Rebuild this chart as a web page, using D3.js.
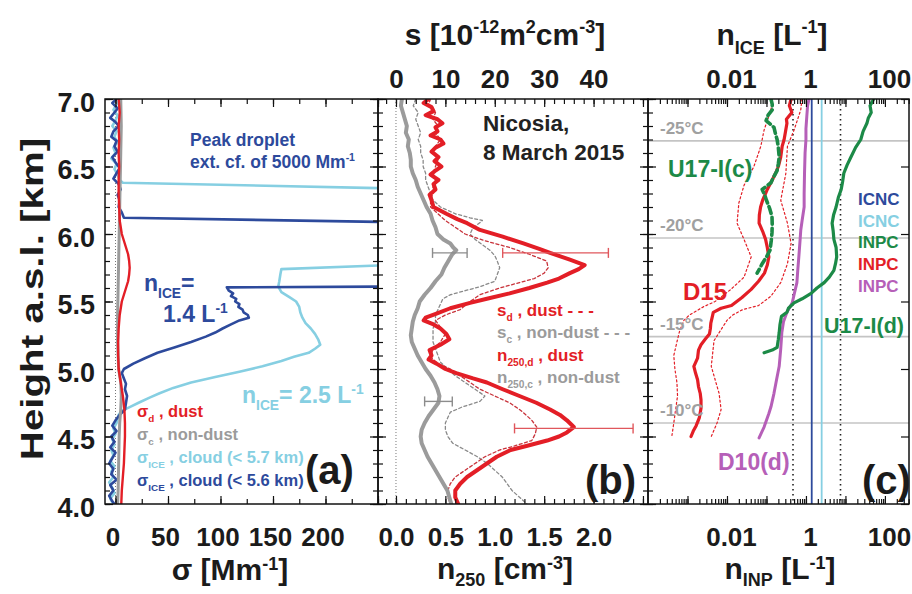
<!DOCTYPE html>
<html><head><meta charset="utf-8">
<script src="https://cdn.jsdelivr.net/npm/d3@7"></script>
<style>
html,body{margin:0;padding:0;background:#fff;}
svg{display:block;}
text{font-family:"Liberation Sans",Arial,Helvetica,sans-serif;font-weight:bold;}
</style></head><body>
<svg id="chart" width="912" height="594"></svg>
<script>
// ---------- tick labels and reference levels ----------
const heightTicks = [4.0, 4.5, 5.0, 5.5, 6.0, 6.5, 7.0];
const sigmaTicks = [0, 50, 100, 150, 200];
const n250Ticks = [0, 0.5, 1.0, 1.5, 2.0];
const sTicks = [0, 10, 20, 30, 40];
const inpTicks = [0.01, 1, 100];
const tempLevels = [6.69, 5.97, 5.24, 4.60];
const tempLabels = ["-25°C", "-20°C", "-15°C", "-10°C"];
const icncDark = 1.4, icncLight = 2.5;
const icncBounds = [0.47, 7.5];

// ---------- panel (a): extinction coefficients [height km, Mm^-1] ----------
const sigmaDust = [[7.0,3],[6.9,4],[6.8,3],[6.7,3.5],[6.6,3],[6.5,3.5],[6.4,3],[6.3,3],[6.2,3.5],[6.1,4],[6.0,6],[5.95,8],[5.9,10],[5.85,12],[5.8,13],[5.75,13.5],[5.7,13],[5.65,12],[5.6,10],[5.55,8],[5.5,6],[5.4,4],[5.3,3],[5.2,2.5],[5.1,2.5],[5.0,3],[4.95,4],[4.9,5],[4.8,7],[4.7,8.5],[4.6,9],[4.5,9],[4.4,8.5],[4.3,8],[4.2,7],[4.1,6],[4.0,5.5]];
const sigmaNonDust = [[7.0,5],[6.8,5.5],[6.6,5],[6.4,4.5],[6.2,4],[6.0,3.5],[5.8,3],[5.6,2.5],[5.4,2],[5.2,2],[5.0,3],[4.9,5],[4.8,5.5],[4.7,5],[4.6,4],[4.5,3.5],[4.3,3],[4.1,2.5],[4.0,2]];
const sigmaIce57 = [[7.0,4],[6.96,1],[6.92,-2],[6.88,2],[6.84,0],[6.8,-3],[6.76,1],[6.72,-1],[6.68,2],[6.64,-2],[6.6,0],[6.56,-4],[6.52,1],[6.48,-1],[6.44,2],[6.4,4],[6.38,7],[6.34,250],[6.33,5000],[5.78,5000],[5.77,260],[5.74,158],[5.70,157],[5.65,156],[5.61,155],[5.57,158],[5.53,166],[5.50,172],[5.46,175],[5.42,176],[5.38,178],[5.34,181],[5.30,186],[5.26,190],[5.22,193],[5.18,195],[5.15,190],[5.12,184],[5.09,170],[5.06,158],[5.02,140],[4.98,118],[4.94,95],[4.90,72],[4.86,55],[4.82,42],[4.79,33],[4.75,22],[4.72,14],[4.69,6],[4.66,3],[4.6,1],[4.56,-2],[4.52,0],[4.48,-3],[4.44,-1],[4.4,-4],[4.36,-2],[4.32,-5],[4.28,-1],[4.24,-4],[4.2,-2],[4.16,-6],[4.12,-3],[4.08,-1],[4.04,-5],[4.0,-2]];
const sigmaIce56 = [[7.0,1],[6.97,-3],[6.93,2],[6.9,-1],[6.86,-5],[6.83,0],[6.8,3],[6.76,-2],[6.72,-4],[6.69,1],[6.65,-1],[6.61,2],[6.57,-3],[6.53,0],[6.49,4],[6.45,1],[6.41,-2],[6.37,3],[6.33,5],[6.29,2],[6.25,4],[6.2,3],[6.16,6],[6.12,8],[6.09,250],[6.08,5000],[5.62,5000],[5.61,250],[5.605,106],[5.58,108],[5.56,112],[5.54,110],[5.52,115],[5.50,114],[5.48,118],[5.46,117],[5.44,121],[5.42,122],[5.40,126],[5.38,127],[5.36,118],[5.33,110],[5.30,102],[5.27,95],[5.24,86],[5.20,72],[5.16,56],[5.12,40],[5.08,28],[5.04,17],[5.00,8],[4.97,6],[4.93,8],[4.89,10],[4.85,9],[4.80,11],[4.75,10],[4.70,9],[4.66,4],[4.62,0],[4.58,-3],[4.54,1],[4.5,-4],[4.46,-1],[4.42,-5],[4.38,0],[4.34,-3],[4.3,-6],[4.26,-2],[4.22,-4],[4.18,1],[4.14,-5],[4.1,-2],[4.06,-6],[4.02,-3],[4.0,-1]];

// ---------- panel (b): number and surface-area concentrations ----------
const n250Dust = [[7.0,.33],[6.97,.28],[6.94,.36],[6.91,.38],[6.88,.30],[6.85,.42],[6.82,.47],[6.79,.40],[6.76,.42],[6.73,.35],[6.70,.45],[6.67,.48],[6.64,.40],[6.61,.36],[6.57,.43],[6.54,.39],[6.50,.46],[6.47,.40],[6.44,.35],[6.40,.43],[6.37,.38],[6.33,.40],[6.29,.34],[6.25,.36],[6.20,.38],[6.15,.51],[6.11,.62],[6.08,.72],[6.03,.85],[5.98,1.08],[5.93,1.29],[5.89,1.45],[5.86,1.56],[5.81,1.76],[5.77,1.91],[5.74,1.85],[5.71,1.76],[5.67,1.65],[5.64,1.53],[5.60,1.35],[5.56,1.15],[5.52,0.92],[5.49,0.75],[5.45,0.55],[5.41,0.41],[5.38,0.30],[5.36,0.28],[5.33,0.38],[5.30,0.45],[5.26,0.51],[5.22,0.54],[5.18,0.45],[5.14,0.34],[5.10,0.36],[5.07,0.33],[5.04,0.41],[5.00,0.50],[4.97,0.61],[4.93,0.78],[4.90,0.92],[4.85,1.08],[4.80,1.25],[4.75,1.42],[4.70,1.56],[4.66,1.66],[4.62,1.73],[4.57,1.80],[4.53,1.73],[4.50,1.65],[4.47,1.53],[4.43,1.32],[4.40,1.16],[4.35,1.02],[4.30,0.92],[4.25,0.82],[4.20,0.72],[4.15,0.65],[4.10,0.60],[4.05,0.60],[4.0,0.63]];
const n250NonDust = [[7.0,.06],[6.95,.05],[6.9,.07],[6.85,.09],[6.8,.11],[6.75,.10],[6.7,.13],[6.65,.12],[6.6,.14],[6.55,.15],[6.5,.15],[6.45,.17],[6.4,.20],[6.35,.22],[6.3,.25],[6.25,.28],[6.2,.31],[6.15,.35],[6.1,.37],[6.05,.40],[6.0,.42],[5.96,.48],[5.93,.55],[5.90,.58],[5.88,.61],[5.85,.57],[5.80,.53],[5.75,.49],[5.70,.46],[5.65,.40],[5.60,.35],[5.55,.29],[5.50,.24],[5.45,.22],[5.40,.19],[5.35,.17],[5.30,.16],[5.25,.15],[5.20,.16],[5.15,.19],[5.10,.22],[5.05,.26],[5.00,.30],[4.95,.35],[4.90,.39],[4.85,.42],[4.80,.44],[4.75,.43],[4.70,.38],[4.65,.33],[4.60,.29],[4.55,.26],[4.50,.25],[4.45,.26],[4.40,.29],[4.35,.32],[4.30,.36],[4.25,.40],[4.20,.44],[4.15,.48],[4.10,.52],[4.05,.54],[4.0,.56]];
const sDust = [[7.0,7],[6.95,6.5],[6.9,8],[6.85,7.5],[6.8,8.5],[6.75,8],[6.7,9],[6.65,8],[6.6,7.5],[6.55,8.5],[6.5,8],[6.45,7.5],[6.4,8],[6.35,7.5],[6.3,7.5],[6.25,7],[6.2,7],[6.15,8.5],[6.1,10],[6.05,12],[6.0,14],[5.95,18],[5.9,23],[5.85,27],[5.8,30.5],[5.75,30.8],[5.71,30],[5.67,28],[5.64,25],[5.6,21],[5.55,17],[5.5,15],[5.44,13],[5.40,10],[5.36,8],[5.31,9],[5.26,10],[5.2,9],[5.15,7.5],[5.09,7],[5.04,8.5],[5.0,11],[4.95,13],[4.90,15],[4.85,17],[4.80,20],[4.75,23],[4.70,25],[4.67,26],[4.62,27.5],[4.57,28.5],[4.52,28.2],[4.47,27.5],[4.43,24],[4.40,21],[4.35,18],[4.30,16],[4.25,14],[4.20,12],[4.15,11],[4.10,10.5],[4.05,10.5],[4.0,11]];
const sNonDust = [[7.0,4],[6.95,3.5],[6.9,4.5],[6.85,4],[6.8,4.5],[6.75,5],[6.7,4.5],[6.65,5],[6.6,5],[6.55,5.5],[6.5,5.5],[6.45,6],[6.4,6],[6.35,6.5],[6.3,7],[6.25,7.5],[6.2,9],[6.15,12],[6.12,15],[6.10,17.5],[6.07,16.5],[6.04,15.5],[6.0,15],[5.96,16],[5.92,17.5],[5.88,19],[5.84,20],[5.80,20.5],[5.75,21],[5.70,20.5],[5.65,20],[5.61,17],[5.58,14],[5.55,11],[5.52,9.5],[5.48,9],[5.44,8.5],[5.40,8],[5.35,8],[5.30,7.5],[5.25,7.5],[5.20,7.5],[5.15,8],[5.10,8.5],[5.05,9],[5.00,10.5],[4.95,12],[4.90,14],[4.85,16],[4.80,18],[4.76,17],[4.72,13.5],[4.68,11],[4.64,10.5],[4.60,10],[4.55,10],[4.50,10.5],[4.45,11.5],[4.40,14],[4.35,16.5],[4.30,18.5],[4.25,20],[4.20,21.5],[4.15,22.5],[4.10,23.5],[4.05,25],[4.0,26.5]];
// [height, low, high] of the n250 uncertainty bars
const errDust = [[5.86,1.08,2.15],[4.56,1.20,2.40]];
const errNonDust = [[5.86,0.37,0.72],[4.76,0.29,0.57]];

// ---------- panel (c): INP and ice crystal concentrations [height km, L^-1] ----------
const inpD15 = [[7.0,0.42],[6.95,0.38],[6.9,0.44],[6.85,0.32],[6.82,0.33],[6.75,0.30],[6.7,0.28],[6.65,0.25],[6.57,0.23],[6.5,0.20],[6.45,0.17],[6.4,0.14],[6.33,0.105],[6.25,0.08],[6.2,0.071],[6.14,0.066],[6.08,0.065],[6.02,0.08],[5.96,0.095],[5.9,0.105],[5.83,0.115],[5.77,0.105],[5.71,0.089],[5.65,0.063],[5.59,0.041],[5.53,0.024],[5.47,0.013],[5.45,0.0071],[5.42,0.0045],[5.38,0.0042],[5.34,0.0039],[5.3,0.0038],[5.26,0.0036],[5.22,0.0028],[5.18,0.0022],[5.14,0.0019],[5.08,0.0018],[5.02,0.00145],[4.97,0.0016],[4.92,0.0018],[4.87,0.0019],[4.82,0.0021],[4.77,0.0022],[4.71,0.0022],[4.64,0.0020],[4.58,0.00166],[4.54,0.0014],[4.5,0.00123]];
const inpD15Low = [[7.0,0.14],[6.92,0.13],[6.77,0.087],[6.65,0.072],[6.5,0.048],[6.36,0.027],[6.23,0.02],[6.08,0.018],[5.96,0.027],[5.83,0.041],[5.68,0.027],[5.59,0.0126],[5.5,0.005],[5.46,0.0025],[5.4,0.00112],[5.36,0.00081],[5.28,0.00063],[5.2,0.00054],[5.1,0.00045],[5.0,0.00048],[4.9,0.00054],[4.8,0.00056],[4.7,0.0005],[4.6,0.00045],[4.5,0.0004]];
const inpD15High = [[7.0,0.79],[6.92,0.74],[6.77,0.5],[6.65,0.34],[6.45,0.31],[6.25,0.23],[6.08,0.34],[5.93,0.42],[5.78,0.34],[5.64,0.23],[5.54,0.13],[5.47,0.063],[5.44,0.025],[5.40,0.014],[5.36,0.01],[5.21,0.0047],[5.02,0.004],[4.82,0.0063],[4.70,0.0071],[4.6,0.0056],[4.5,0.004]];
const inpU17c = [[7.0,0.13],[6.96,0.14],[6.92,0.14],[6.88,0.11],[6.84,0.098],[6.79,0.155],[6.74,0.17],[6.70,0.186],[6.64,0.2],[6.57,0.21],[6.52,0.2],[6.47,0.186],[6.42,0.15],[6.38,0.13],[6.33,0.078],[6.29,0.09],[6.25,0.1],[6.19,0.12],[6.13,0.138],[6.07,0.14],[6.01,0.138],[5.95,0.132],[5.88,0.123],[5.83,0.1],[5.78,0.078],[5.74,0.066],[5.71,0.058]];
const inpU17d = [[7.0,52],[6.95,42],[6.9,45],[6.86,38],[6.82,35],[6.76,28],[6.70,24.5],[6.64,18],[6.57,13.8],[6.51,11],[6.45,9.1],[6.39,8.5],[6.33,7.8],[6.27,6.6],[6.20,5.8],[6.14,5.0],[6.08,4.6],[6.02,4.9],[5.96,5.1],[5.9,5.8],[5.83,6.0],[5.78,5.6],[5.73,5.1],[5.68,3.9],[5.64,2.9],[5.60,1.9],[5.56,1.35],[5.52,0.8],[5.49,0.5],[5.45,0.36],[5.42,0.33],[5.39,0.24],[5.33,0.22],[5.27,0.21],[5.22,0.2],[5.16,0.186],[5.14,0.14],[5.12,0.087]];
const inpD10 = [[7.0,1.2],[6.95,1.1],[6.87,1.05],[6.78,1.0],[6.70,1.0],[6.6,0.95],[6.45,0.92],[6.3,0.9],[6.2,0.9],[6.1,0.8],[6.03,0.74],[5.93,0.7],[5.83,0.66],[5.73,0.62],[5.64,0.59],[5.55,0.5],[5.49,0.45],[5.42,0.33],[5.35,0.27],[5.27,0.245],[5.15,0.23],[5.02,0.21],[4.92,0.18],[4.82,0.155],[4.72,0.13],[4.67,0.115],[4.57,0.087],[4.49,0.065]];

// ---------- colours ----------
const RED = "#e31e26", GREY = "#9b9b9b", DARKBLUE = "#2d4a9c", LIGHTBLUE = "#86cfe2",
      GREEN = "#1c8a47", PURPLE = "#b65fb8", INK = "#1b1b1b";

// ---------- layout ----------
const svg = d3.select("#chart");
const TOP = 99, BOTTOM = 504;
const y = d3.scaleLinear().domain([4, 7]).range([BOTTOM, TOP]);
const xA = d3.scaleLinear().domain([-10, 250]).range([105, 378]);
const xB = d3.scaleLinear().domain([-0.182, 2.551]).range([378, 648]);
const xS = d3.scaleLinear().domain([-3.64, 51.02]).range([378, 648]);
const xC = d3.scaleLog().domain([1e-4, 407]).range([648, 909]);

const panels = [
  {id: "a", x: xA}, {id: "b", x: xB}, {id: "c", x: xC}
];
const defs = svg.append("defs");
panels.forEach(p => {
  const [x0, x1] = p.x.range();
  defs.append("clipPath").attr("id", "clip-" + p.id)
    .append("rect").attr("x", x0).attr("y", TOP).attr("width", x1 - x0).attr("height", BOTTOM - TOP);
});
const layer = id => svg.append("g").attr("clip-path", `url(#clip-${id})`);

function profile(g, data, xs, color, width, dash) {
  const line = d3.line().x(d => xs(d[1])).y(d => y(d[0]));
  const path = g.append("path").datum(data).attr("d", line)
    .attr("fill", "none").attr("stroke", color).attr("stroke-width", width)
    .attr("stroke-linejoin", "round").attr("stroke-linecap", "round");
  if (dash) path.attr("stroke-dasharray", dash);
  return path;
}

// text with sub/superscripts: parts are strings or [string, "sub"|"sup"]
function rich(parent, x, yy, parts, size, fill, anchor, subShift, supShift) {
  const t = parent.append("text").attr("x", x).attr("y", yy)
    .attr("font-size", size).attr("fill", fill).attr("text-anchor", anchor || "start");
  let shift = 0;
  parts.forEach(p => {
    const [str, mode] = Array.isArray(p) ? p : [p, ""];
    const target = mode === "sub" ? size * (subShift || 0.3)
                 : mode === "sup" ? -size * (supShift || 0.4) : 0;
    const ts = t.append("tspan").attr("dy", target - shift).text(str);
    if (mode) ts.attr("font-size", size * 0.6);
    shift = target;
  });
  return t;
}

// ---------- panel (a) ----------
const gA = layer("a");
gA.append("line").attr("x1", xA(0)).attr("x2", xA(0)).attr("y1", TOP).attr("y2", BOTTOM)
  .attr("stroke", "#777").attr("stroke-width", 1).attr("stroke-dasharray", "1,2");
profile(gA, sigmaIce57, xA, LIGHTBLUE, 2.6);
profile(gA, sigmaIce56, xA, DARKBLUE, 2.6);
profile(gA, sigmaNonDust, xA, GREY, 3);
profile(gA, sigmaDust, xA, RED, 2.4);

// ---------- panel (b) ----------
const gB = layer("b");
gB.append("line").attr("x1", xB(0)).attr("x2", xB(0)).attr("y1", TOP).attr("y2", BOTTOM)
  .attr("stroke", "#777").attr("stroke-width", 1).attr("stroke-dasharray", "1,2");
profile(gB, sNonDust, xS, "#8a8a8a", 1.3, "3,2.5");
profile(gB, sDust, xS, "#c8323a", 1.3, "3,2.5");
profile(gB, n250NonDust, xB, GREY, 4);
profile(gB, n250Dust, xB, RED, 4);
function errorBars(g, data, color) {
  data.forEach(([h, lo, hi]) => {
    g.append("line").attr("x1", xB(lo)).attr("x2", xB(hi)).attr("y1", y(h)).attr("y2", y(h))
      .attr("stroke", color).attr("stroke-width", 1.4);
    [lo, hi].forEach(v => g.append("line").attr("x1", xB(v)).attr("x2", xB(v))
      .attr("y1", y(h) - 5).attr("y2", y(h) + 5).attr("stroke", color).attr("stroke-width", 1.4));
  });
}
errorBars(gB, errNonDust, "#8c8c8c");
errorBars(gB, errDust, "#e0575c");

// ---------- panel (c) ----------
const gC = layer("c");
tempLevels.forEach(h => gC.append("line").attr("x1", 648).attr("x2", 909)
  .attr("y1", y(h)).attr("y2", y(h)).attr("stroke", "#c4c4c4").attr("stroke-width", 1.6));
icncBounds.forEach(v => gC.append("line").attr("x1", xC(v)).attr("x2", xC(v))
  .attr("y1", TOP).attr("y2", BOTTOM).attr("stroke", "#222").attr("stroke-width", 1.6)
  .attr("stroke-dasharray", "1.6,3.4"));
gC.append("line").attr("x1", xC(icncDark)).attr("x2", xC(icncDark)).attr("y1", TOP).attr("y2", BOTTOM)
  .attr("stroke", DARKBLUE).attr("stroke-width", 1.8);
gC.append("line").attr("x1", xC(icncLight)).attr("x2", xC(icncLight)).attr("y1", TOP).attr("y2", BOTTOM)
  .attr("stroke", LIGHTBLUE).attr("stroke-width", 1.8);
profile(gC, inpD15Low, xC, RED, 1.2, "2,2.5");
profile(gC, inpD15High, xC, RED, 1.2, "2,2.5");
profile(gC, inpD10, xC, PURPLE, 3);
profile(gC, inpD15, xC, RED, 3.2);
profile(gC, inpU17c, xC, GREEN, 3.6, "7,4");
profile(gC, inpU17d, xC, GREEN, 3.2);
tempLabels.forEach((t, i) => svg.append("text").attr("x", 660).attr("y", y(tempLevels[i]) - 7)
  .attr("font-size", 17).attr("font-weight", "normal").attr("fill", "#a0a0a0").text(t));

// ---------- frames and axes ----------
const axes = svg.append("g");
function yTicks(x, side) {
  const make = side === "right" ? d3.axisRight : d3.axisLeft;
  axes.append("g").attr("transform", `translate(${x},0)`)
    .call(make(y).tickValues(d3.range(4, 7.01, 0.1)).tickSize(5).tickFormat(""));
  axes.append("g").attr("transform", `translate(${x},0)`)
    .call(make(y).tickValues(heightTicks).tickSize(8).tickFormat(""));
}
// ticks point inward on every panel edge
yTicks(105, "right"); yTicks(378, "left"); yTicks(378, "right"); yTicks(648, "left"); yTicks(648, "right");
axes.append("g").attr("transform", "translate(909,0)")
  .call(d3.axisLeft(y).tickValues(heightTicks).tickSize(8).tickFormat(""));

function xTicks(scale, minor, major, yy, dir) {
  const make = dir === "top" ? d3.axisTop : d3.axisBottom;
  axes.append("g").attr("transform", `translate(0,${yy})`)
    .call(make(scale).tickValues(minor).tickSize(-5).tickFormat(""));
  axes.append("g").attr("transform", `translate(0,${yy})`)
    .call(make(scale).tickValues(major).tickSize(-8).tickFormat(""));
}
const aMinor = d3.range(0, 251, 25), aMajor = d3.range(0, 251, 50);
xTicks(xA, aMinor, aMajor, BOTTOM, "bottom");
xTicks(xA, aMinor, aMajor, TOP, "top");
xTicks(xB, d3.range(-0.1, 2.56, 0.1), d3.range(0, 2.56, 0.5), BOTTOM, "bottom");
xTicks(xS, d3.range(-2, 51, 2), d3.range(0, 51, 10), TOP, "top");
const cMinor = xC.ticks().filter(v => v > 1.001e-4);
const cMajor = cMinor.filter(v => Math.abs(Math.log10(v) - Math.round(Math.log10(v))) < 1e-6);
xTicks(xC, cMinor, cMajor, BOTTOM, "bottom");
xTicks(xC, cMinor, cMajor, TOP, "top");
axes.selectAll(".domain").remove();
axes.selectAll("line").attr("stroke", "#111").attr("stroke-width", 1.2);
panels.forEach(p => {
  const [x0, x1] = p.x.range();
  svg.append("rect").attr("x", x0).attr("y", TOP).attr("width", x1 - x0).attr("height", BOTTOM - TOP)
    .attr("fill", "none").attr("stroke", "#111").attr("stroke-width", 1.5);
});

// tick labels
function styleLabels(size, dx) {
  return g => {
    g.select(".domain").remove();
    g.selectAll("text").attr("font-size", size).attr("fill", INK).attr("dx", dx || 0)
      .attr("font-family", '"Liberation Sans",Arial,sans-serif').attr("font-weight", "bold");
  };
}
const inpFormat = d => d < 1 ? "0.01" : String(d);
svg.append("g").attr("transform", `translate(104,0)`)
  .call(d3.axisLeft(y).tickValues(heightTicks).tickSize(0).tickPadding(9).tickFormat(d3.format(".1f")))
  .call(styleLabels(27)).selectAll("text").attr("dy", "0.45em");
svg.append("g").attr("transform", `translate(0,${BOTTOM})`)
  .call(d3.axisBottom(xA).tickValues(sigmaTicks).tickSize(0).tickPadding(24).tickFormat(d3.format("d")))
  .call(styleLabels(26, -3));
svg.append("g").attr("transform", `translate(0,${BOTTOM})`)
  .call(d3.axisBottom(xB).tickValues(n250Ticks).tickSize(0).tickPadding(24).tickFormat(d3.format(".1f")))
  .call(styleLabels(26));
svg.append("g").attr("transform", `translate(0,${BOTTOM})`)
  .call(d3.axisBottom(xC).tickValues(inpTicks).tickSize(0).tickPadding(24).tickFormat(inpFormat))
  .call(styleLabels(26, 4));
svg.append("g").attr("transform", `translate(0,${TOP})`)
  .call(d3.axisTop(xS).tickValues(sTicks).tickSize(0).tickPadding(11).tickFormat(d3.format("d")))
  .call(styleLabels(26));
svg.append("g").attr("transform", `translate(0,${TOP})`)
  .call(d3.axisTop(xC).tickValues(inpTicks).tickSize(0).tickPadding(11).tickFormat(inpFormat))
  .call(styleLabels(26, 4));

// axis titles
const TS = 30;
rich(svg, 505, 45, ["s [10", ["-12", "sup"], "m", ["2", "sup"], "cm", ["-3", "sup"], "]"], TS, INK, "middle");
rich(svg, 772, 45, ["n", ["ICE", "sub"], " [L", ["-1", "sup"], "]"], TS, INK, "middle");
rich(svg, 230, 580, ["σ [Mm", ["-1", "sup"], "]"], TS, INK, "middle", 0.22, 0.33);
rich(svg, 505, 579, ["n", ["250", "sub"], " [cm", ["-3", "sup"], "]"], TS, INK, "middle", 0.22, 0.33);
rich(svg, 780, 579, ["n", ["INP", "sub"], " [L", ["-1", "sup"], "]"], TS, INK, "middle", 0.22, 0.33);
svg.append("text").attr("transform", "translate(43,299) rotate(-90) scale(1.3,1)").attr("text-anchor", "middle")
  .attr("font-size", 31).attr("fill", INK).text("Height a.s.l. [km]");

// ---------- annotations ----------
rich(svg, 190, 146, ["Peak droplet"], 17.5, DARKBLUE);
rich(svg, 190, 168, ["ext. cf. of 5000 Mm", ["-1", "sup"]], 17.5, DARKBLUE);
rich(svg, 144, 291, ["n", ["ICE", "sub"], "="], 23, DARKBLUE);
rich(svg, 163, 322, ["1.4 L", ["-1", "sup"]], 23, DARKBLUE);
rich(svg, 242, 403, ["n", ["ICE", "sub"], "= 2.5 L", ["-1", "sup"]], 23, LIGHTBLUE);
rich(svg, 137, 417, ["σ", ["d", "sub"], " , dust"], 16.5, RED);
rich(svg, 137, 440, ["σ", ["c", "sub"], " , non-dust"], 16.5, GREY);
rich(svg, 137, 463, ["σ", ["ICE", "sub"], " , cloud (< 5.7 km)"], 16.5, LIGHTBLUE);
rich(svg, 137, 486, ["σ", ["ICE", "sub"], " , cloud (< 5.6 km)"], 16.5, DARKBLUE);
rich(svg, 305, 484, ["(a)"], 40, INK);

rich(svg, 483, 131, ["Nicosia,"], 22.5, "#222");
rich(svg, 483, 160, ["8 March 2015"], 22.5, "#222");
rich(svg, 497, 316, ["s", ["d", "sub"], " , dust - - -"], 17, RED);
rich(svg, 497, 338, ["s", ["c", "sub"], " , non-dust - - -"], 17, GREY);
rich(svg, 497, 361, ["n", ["250,d", "sub"], " , dust"], 17, RED);
rich(svg, 497, 383, ["n", ["250,c", "sub"], " , non-dust"], 17, GREY);
rich(svg, 585, 494, ["(b)"], 40, INK);

rich(svg, 668, 177, ["U17-I(c)"], 23, GREEN);
rich(svg, 683, 300, ["D15"], 24, RED);
rich(svg, 824, 333, ["U17-I(d)"], 21.5, GREEN);
rich(svg, 718, 470, ["D10(d)"], 23, PURPLE);
[["ICNC", DARKBLUE], ["ICNC", LIGHTBLUE], ["INPC", GREEN], ["INPC", RED], ["INPC", PURPLE]]
  .forEach(([t, c], i) => rich(svg, 858, 205 + i * 21.7, [t], 17, c));
rich(svg, 862, 494, ["(c)"], 40, INK);
</script></body></html>
